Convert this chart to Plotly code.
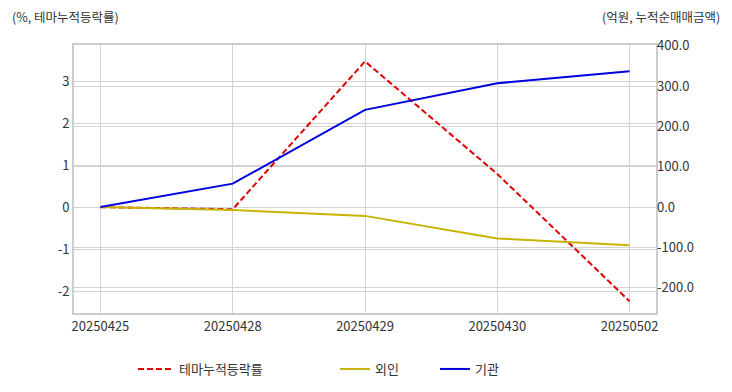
import plotly.graph_objects as go

dates = ["20250425", "20250428", "20250429", "20250430", "20250502"]
theme_rate = [0.0, -0.05, 3.47, 0.79, -2.24]
foreign = [0.0, -7.5, -22.0, -78.0, -95.0]
institution = [0.0, 58.0, 241.0, 307.0, 337.0]

left_ticks = [-2, -1, 0, 1, 2, 3]
right_ticks = [-200, -100, 0, 100, 200, 300, 400]

FONT = "Noto Sans CJK KR"
GRID = "#d3d3d3"
OFF = 8  # page body margin
W, H = 732 - OFF, 392 - OFF
# plot area in screen coordinates
SL, SR, ST, SB = 74, 656, 45, 313
L, R, T, B = SL - OFF, W - (SR - OFF), ST - OFF, H - (SB - OFF)
PW, PH = W - L - R, H - T - B


def px_x(sx):
    return (sx - SL) / PW


def px_y(sy):
    return (SB - sy) / PH


fig = go.Figure()
fig.add_trace(go.Scatter(x=dates, y=theme_rate, name="테마누적등락률", mode="lines",
                         line=dict(color="#e00000", width=2, dash="6px,3px"), legend="legend"))
fig.add_trace(go.Scatter(x=dates, y=foreign, name="외인", mode="lines", yaxis="y2",
                         line=dict(color="#c8b400", width=2), legend="legend2"))
fig.add_trace(go.Scatter(x=dates, y=institution, name="기관", mode="lines", yaxis="y2",
                         line=dict(color="#0000dd", width=2), legend="legend2"))

fig.update_layout(
    width=W, height=H, showlegend=True,
    margin=dict(l=L, r=R, t=T, b=B, autoexpand=False),
    paper_bgcolor="white", plot_bgcolor="white",
    font=dict(family=FONT, size=13, color="#333333"),
    xaxis=dict(type="category", range=[-0.2, 4.2], showgrid=True, gridcolor=GRID,
               showline=True, linecolor="#cccccc", linewidth=2, mirror=True,
               ticks="", zeroline=False, automargin=False),
    yaxis=dict(range=[-2.52, 3.86], tickvals=left_ticks,
               ticktext=[str(v) for v in left_ticks], showgrid=True,
               gridcolor=GRID, zeroline=False, showline=True, linecolor="#cccccc",
               linewidth=2, mirror=True, ticks="", automargin=False),
    yaxis2=dict(range=[-263, 402], tickvals=right_ticks,
                ticktext=[f"{v:.1f}" for v in right_ticks],
                overlaying="y", side="right", showgrid=True,
                gridcolor=GRID, zeroline=False, ticks="", automargin=False),
    legend=dict(orientation="h", x=px_x(133), xanchor="left",
                y=px_y(369), yanchor="middle", itemwidth=36,
                font=dict(size=13), bgcolor="rgba(0,0,0,0)"),
    legend2=dict(orientation="h", x=px_x(335), xanchor="left",
                 y=px_y(369), yanchor="middle",
                 font=dict(size=13), entrywidth=55, bgcolor="rgba(0,0,0,0)"),
)
fig.add_annotation(text="(%, 테마누적등락률)", xref="paper", yref="paper",
                   x=px_x(10), y=px_y(16), xanchor="left", yanchor="middle",
                   showarrow=False, font=dict(size=12.5))
fig.add_annotation(text="(억원, 누적순매매금액)", xref="paper", yref="paper",
                   x=px_x(722), y=px_y(16), xanchor="right",
                   yanchor="middle", showarrow=False, font=dict(size=12.5))

fig.write_html("out.html")
